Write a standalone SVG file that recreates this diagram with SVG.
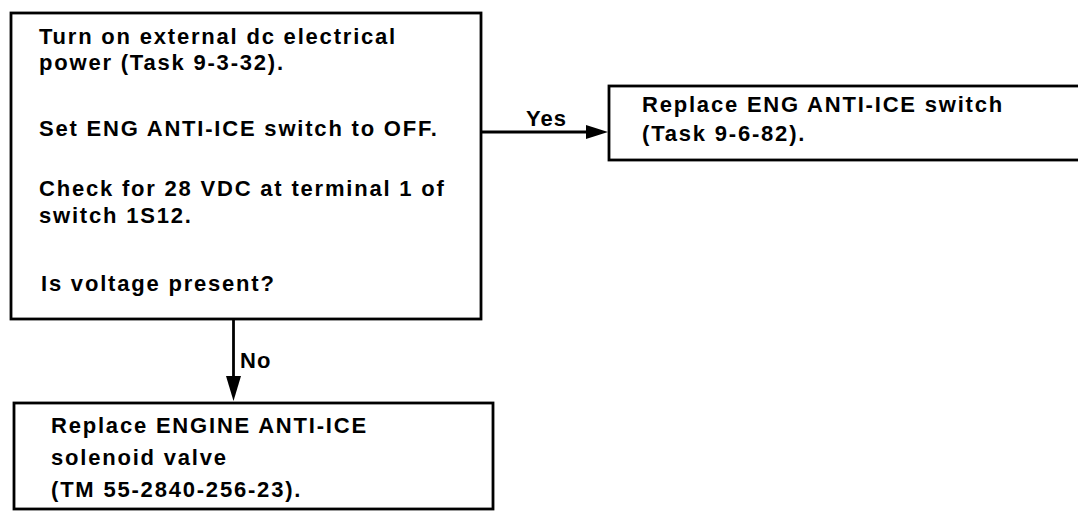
<svg xmlns="http://www.w3.org/2000/svg" width="1078" height="512" viewBox="0 0 1078 512">
<style>
.box{fill:#fff;stroke:#000;stroke-width:2.8}
.t{font-family:"Liberation Sans",Arial,sans-serif;font-size:22px;font-weight:bold;letter-spacing:1.8px;fill:#000}
.ln{stroke:#000;stroke-width:2.8;fill:none}
.ah{fill:#000}
</style>
<rect width="1078" height="512" fill="#fff"/>
<g id="node-check">
<rect class="box" x="11" y="13" width="470" height="306"/>
<text class="t" x="39" y="44">Turn on external dc electrical</text>
<text class="t" x="39" y="70">power (Task 9-3-32).</text>
<text class="t" x="39" y="136">Set ENG ANTI-ICE switch to OFF.</text>
<text class="t" x="39" y="196">Check for 28 VDC at terminal 1 of</text>
<text class="t" x="39" y="223">switch 1S12.</text>
<text class="t" x="41" y="291">Is voltage present?</text>
</g>
<g id="node-replace-switch">
<rect class="box" x="609" y="86" width="480" height="74"/>
<text class="t" x="642" y="112">Replace ENG ANTI-ICE switch</text>
<text class="t" x="642" y="141">(Task 9-6-82).</text>
</g>
<g id="node-replace-valve">
<rect class="box" x="14" y="403" width="479" height="106"/>
<text class="t" x="51" y="433">Replace ENGINE ANTI-ICE</text>
<text class="t" x="51" y="465">solenoid valve</text>
<text class="t" x="51" y="497">(TM 55-2840-256-23).</text>
</g>
<g id="connectors">
<line class="ln" x1="481" y1="132" x2="590" y2="132"/>
<polygon class="ah" points="586,125 608,132 586,139"/>
<text class="t" x="526" y="126" style="letter-spacing:1px">Yes</text>
<line class="ln" x1="233.5" y1="319" x2="233.5" y2="380"/>
<polygon class="ah" points="226,376 241,376 233.5,401"/>
<text class="t" x="240" y="368" style="letter-spacing:1px">No</text>
</g>
</svg>
